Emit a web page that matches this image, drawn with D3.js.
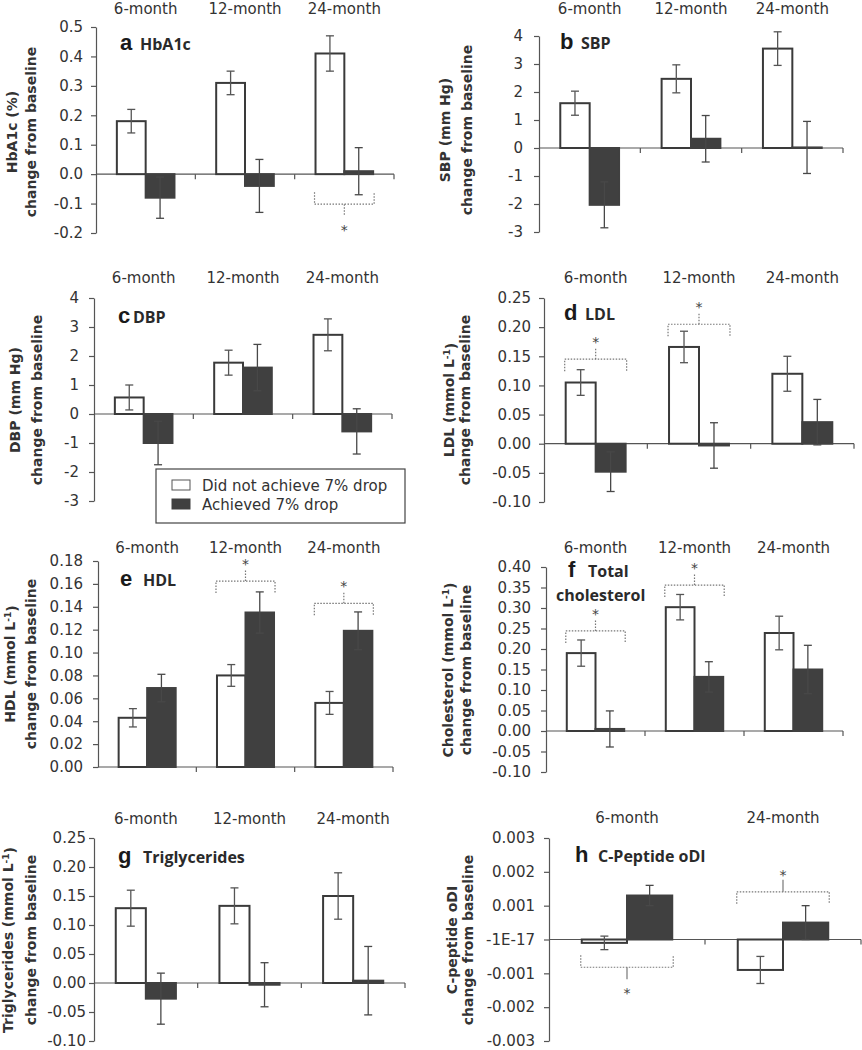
<!DOCTYPE html>
<html>
<head>
<meta charset="utf-8">
<script src="https://cdn.jsdelivr.net/npm/d3@7/dist/d3.min.js"></script>
<style>
html,body{margin:0;padding:0;background:#fff;}
svg{display:block;}
</style>
</head>
<body>
<svg id="chart" width="862" height="1050"></svg>
<script>
// ---------- DATA ----------
const months3 = ["6-month", "12-month", "24-month"];
const months2 = ["6-month", "24-month"];
const groups = ["Did not achieve 7% drop", "Achieved 7% drop"];

// a HbA1c
const hba1cNot = [0.18, 0.31, 0.41];
const hba1cNotErr = [0.04, 0.04, 0.06];
const hba1cAch = [-0.08, -0.04, 0.01];
const hba1cAchErr = [0.07, 0.09, 0.08];
const hba1cTicks = [-0.2, -0.1, 0, 0.1, 0.2, 0.3, 0.4, 0.5];
const hba1cTickLabels = ["-0.2", "-0.1", "0.0", "0.1", "0.2", "0.3", "0.4", "0.5"];
const hba1cSigCats = [2];
const hba1cSigLevels = [-0.102];

// b SBP
const sbpNot = [1.6, 2.47, 3.55];
const sbpNotErr = [0.43, 0.5, 0.6];
const sbpAch = [-2.03, 0.33, 0.02];
const sbpAchErr = [0.82, 0.83, 0.93];
const sbpTicks = [-3, -2, -1, 0, 1, 2, 3, 4];
const sbpTickLabels = ["-3", "-2", "-1", "0", "1", "2", "3", "4"];

// c DBP
const dbpNot = [0.57, 1.77, 2.73];
const dbpNotErr = [0.43, 0.43, 0.55];
const dbpAch = [-1.0, 1.6, -0.6];
const dbpAchErr = [0.75, 0.8, 0.78];
const dbpTicks = [-3, -2, -1, 0, 1, 2, 3, 4];
const dbpTickLabels = ["-3", "-2", "-1", "0", "1", "2", "3", "4"];

// d LDL
const ldlNot = [0.105, 0.166, 0.12];
const ldlNotErr = [0.022, 0.027, 0.03];
const ldlAch = [-0.048, -0.003, 0.037];
const ldlAchErr = [0.034, 0.039, 0.039];
const ldlTicks = [-0.10, -0.05, 0, 0.05, 0.10, 0.15, 0.20, 0.25];
const ldlTickLabels = ["-0.10", "-0.05", "0.00", "0.05", "0.10", "0.15", "0.20", "0.25"];
const ldlSigCats = [0, 1];
const ldlSigLevels = [0.145, 0.205];

// e HDL
const hdlNot = [0.043, 0.080, 0.056];
const hdlNotErr = [0.008, 0.0095, 0.010];
const hdlAch = [0.069, 0.135, 0.119];
const hdlAchErr = [0.012, 0.018, 0.0165];
const hdlTicks = [0, 0.02, 0.04, 0.06, 0.08, 0.10, 0.12, 0.14, 0.16, 0.18];
const hdlTickLabels = ["0.00", "0.02", "0.04", "0.06", "0.08", "0.10", "0.12", "0.14", "0.16", "0.18"];
const hdlSigCats = [1, 2];
const hdlSigLevels = [0.1625, 0.143];

// f Total cholesterol
const cholNot = [0.190, 0.302, 0.239];
const cholNotErr = [0.032, 0.031, 0.041];
const cholAch = [0.005, 0.132, 0.150];
const cholAchErr = [0.044, 0.037, 0.059];
const cholTicks = [-0.10, -0.05, 0, 0.05, 0.10, 0.15, 0.20, 0.25, 0.30, 0.35, 0.40];
const cholTickLabels = ["-0.10", "-0.05", "0.00", "0.05", "0.10", "0.15", "0.20", "0.25", "0.30", "0.35", "0.40"];
const cholSigCats = [0, 1];
const cholSigLevels = [0.244, 0.356];

// g Triglycerides
const trigNot = [0.129, 0.133, 0.150];
const trigNotErr = [0.031, 0.031, 0.040];
const trigAch = [-0.027, -0.003, 0.004];
const trigAchErr = [0.044, 0.038, 0.059];
const trigTicks = [-0.10, -0.05, 0, 0.05, 0.10, 0.15, 0.20, 0.25];
const trigTickLabels = ["-0.10", "-0.05", "0.00", "0.05", "0.10", "0.15", "0.20", "0.25"];

// h C-Peptide oDI
const cpepNot = [-0.0001, -0.0009];
const cpepNotErr = [0.0002, 0.0004];
const cpepAch = [0.0013, 0.0005];
const cpepAchErr = [0.0003, 0.0005];
const cpepTicks = [-0.003, -0.002, -0.001, 0, 0.001, 0.002, 0.003];
const cpepTickLabels = ["-0.003", "-0.002", "-0.001", "-1E-17", "0.001", "0.002", "0.003"];
const cpepSigCats = [0, 1];
const cpepSigLevels = [-0.00082, 0.00141];

// ---------- DRAWING ----------
const svg = d3.select("#chart");
const REG = "'DejaVu Sans', sans-serif";
const TITLE = "'Open Sans', sans-serif";
const INK = "#333";
const DARK = "#404040";

function drawPanel(c) {
  const g = svg.append("g");
  const y = d3.scaleLinear()
    .domain([c.ticks[0], c.ticks[c.ticks.length - 1]])
    .range([c.yBot, c.yTop]);
  const x = d3.scaleBand().domain(c.cats).range([c.x0, c.x1]);
  const xs = d3.scaleBand().domain(["not", "ach"]).range([0, x.bandwidth()])
    .paddingInner(0).paddingOuter(0.724);

  // y axis
  const ax = g.append("g").attr("transform", `translate(${c.x0},0)`)
    .call(d3.axisLeft(y).tickValues(c.ticks)
      .tickFormat((d, i) => c.tickLabels[i])
      .tickSize(5).tickSizeOuter(0).tickPadding(c.pad));
  ax.select(".domain").attr("stroke", "#555").attr("stroke-width", 1.2);
  ax.selectAll(".tick line").attr("stroke", "#555").attr("stroke-width", 1.2);
  ax.selectAll(".tick text").attr("font-family", REG).attr("font-size", 15).attr("fill", INK);

  // zero line + category ticks
  const y0 = y(0);
  g.append("line").attr("x1", c.x0).attr("x2", c.x1).attr("y1", y0).attr("y2", y0)
    .attr("stroke", "#555").attr("stroke-width", 1.2);
  g.selectAll("line.ct").data(c.cats).enter().append("line")
    .attr("x1", d => x(d) + x.bandwidth()).attr("x2", d => x(d) + x.bandwidth())
    .attr("y1", y0).attr("y2", y0 + 5)
    .attr("stroke", "#555").attr("stroke-width", 1.2);

  // category labels
  g.selectAll("text.cat").data(c.cats).enter().append("text")
    .attr("x", d => x(d) + x.bandwidth() / 2).attr("y", c.labelY)
    .attr("text-anchor", "middle").attr("font-family", REG).attr("font-size", 15)
    .attr("fill", INK).text(d => d);

  // bars
  const rows = [];
  c.cats.forEach((cat, i) => {
    rows.push({ cat, grp: "not", v: c.not[i], e: c.notErr[i] });
    rows.push({ cat, grp: "ach", v: c.ach[i], e: c.achErr[i] });
  });
  g.selectAll("rect.bar").data(rows).enter().append("rect")
    .attr("x", d => x(d.cat) + xs(d.grp))
    .attr("width", xs.bandwidth())
    .attr("y", d => Math.min(y(d.v), y0))
    .attr("height", d => Math.abs(y(d.v) - y0))
    .attr("fill", d => d.grp === "not" ? "#fff" : DARK)
    .attr("stroke", d => d.grp === "not" ? "#3a3a3a" : DARK)
    .attr("stroke-width", 2);

  // error bars
  const eg = g.selectAll("g.err").data(rows).enter().append("g")
    .attr("stroke", d => d.grp === "not" ? "#555" : "#484848").attr("stroke-width", 1.3);
  const cx = d => x(d.cat) + xs(d.grp) + xs.bandwidth() / 2;
  eg.append("line").attr("x1", cx).attr("x2", cx)
    .attr("y1", d => y(d.v - d.e)).attr("y2", d => y(d.v + d.e));
  eg.append("line").attr("x1", d => cx(d) - 4).attr("x2", d => cx(d) + 4)
    .attr("y1", d => y(d.v + d.e)).attr("y2", d => y(d.v + d.e));
  eg.append("line").attr("x1", d => cx(d) - 4).attr("x2", d => cx(d) + 4)
    .attr("y1", d => y(d.v - d.e)).attr("y2", d => y(d.v - d.e));

  // significance brackets
  (c.sigCats || []).forEach((ci, k) => {
    const cat = c.cats[ci];
    const lv = c.sigLevels[k];
    const down = lv < 0 && c.downBelow;
    const left = x(cat) + xs("not") - 1;
    const right = x(cat) + xs("ach") + xs.bandwidth() + 1;
    const mid = (left + right) / 2;
    const ly = y(lv);
    const dir = down ? -1 : 1; // ends direction (+1 = downward)
    const sg = g.append("g").attr("fill", "none").attr("stroke", "#777").attr("stroke-width", 1.2);
    sg.append("path")
      .attr("d", `M${left},${ly + dir * 12}V${ly}H${right}V${ly + dir * 12}`)
      .attr("stroke-dasharray", "1.5,1.5");
    sg.append("line").attr("x1", mid).attr("x2", mid)
      .attr("y1", ly).attr("y2", ly - dir * 12)
      .attr("stroke-dasharray", c.solidStem ? null : "1.5,1.5");
    g.append("text").attr("x", mid).attr("y", down ? ly + 31 : ly - 12)
      .attr("text-anchor", "middle").attr("font-family", REG).attr("font-size", 14)
      .attr("fill", "#444").text("*");
  });

  // y-axis title (two lines, rotated)
  const t1 = g.append("text")
    .attr("transform", `translate(${c.t1x},${c.tcy}) rotate(-90)`)
    .attr("text-anchor", "middle").attr("dy", "0.35em")
    .attr("font-family", REG).attr("font-weight", "bold").attr("font-size", 14).attr("fill", INK);
  t1.append("tspan").text(c.yTitle);
  if (c.sup) {
    t1.append("tspan").attr("dy", "-0.45em").attr("font-size", 9).text("-1");
    t1.append("tspan").attr("dy", "0.45em").text(")");
  }
  g.append("text")
    .attr("transform", `translate(${c.t2x},${c.tcy}) rotate(-90)`)
    .attr("text-anchor", "middle").attr("dy", "0.35em")
    .attr("font-family", REG).attr("font-weight", "bold").attr("font-size", 14).attr("fill", INK)
    .text("change from baseline");

  // panel title
  g.append("text").attr("x", c.lx).attr("y", c.ly)
    .attr("font-family", "'Liberation Sans', Arial, sans-serif").attr("font-weight", "bold")
    .attr("font-size", 22).attr("fill", "#1a1a1a").text(c.letter);
  c.names.forEach((nm, i) => {
    g.append("text").attr("x", c.nx[i]).attr("y", c.ny[i])
      .attr("font-family", TITLE).attr("font-weight", "bold")
      .attr("font-size", 16).attr("fill", "#2a2a2a").text(nm);
  });
}

drawPanel({ cats: months3, not: hba1cNot, notErr: hba1cNotErr, ach: hba1cAch, achErr: hba1cAchErr,
  ticks: hba1cTicks, tickLabels: hba1cTickLabels, x0: 96, x1: 394, yTop: 27, yBot: 233, pad: 8,
  labelY: 14, sigCats: hba1cSigCats, sigLevels: hba1cSigLevels, downBelow: true,
  yTitle: "HbA1c (%)", t1x: 12, t2x: 31, tcy: 132,
  letter: "a", lx: 120, ly: 50, names: ["HbA1c"], nx: [140], ny: [50] });

drawPanel({ cats: months3, not: sbpNot, notErr: sbpNotErr, ach: sbpAch, achErr: sbpAchErr,
  ticks: sbpTicks, tickLabels: sbpTickLabels, x0: 539, x1: 843, yTop: 36, yBot: 232, pad: 11,
  labelY: 14, yTitle: "SBP (mm Hg)", t1x: 445, t2x: 467, tcy: 130,
  letter: "b", lx: 560, ly: 49, names: ["SBP"], nx: [581], ny: [49] });

drawPanel({ cats: months3, not: dbpNot, notErr: dbpNotErr, ach: dbpAch, achErr: dbpAchErr,
  ticks: dbpTicks, tickLabels: dbpTickLabels, x0: 94, x1: 392, yTop: 298, yBot: 501, pad: 10,
  labelY: 283, yTitle: "DBP (mm Hg)", t1x: 15, t2x: 37, tcy: 400,
  letter: "c", lx: 118, ly: 323, names: ["DBP"], nx: [133], ny: [323] });

drawPanel({ cats: months3, not: ldlNot, notErr: ldlNotErr, ach: ldlAch, achErr: ldlAchErr,
  ticks: ldlTicks, tickLabels: ldlTickLabels, x0: 544, x1: 854, yTop: 298, yBot: 502, pad: 8,
  labelY: 283, sigCats: ldlSigCats, sigLevels: ldlSigLevels,
  yTitle: "LDL (mmol L", sup: true, t1x: 449, t2x: 465, tcy: 400,
  letter: "d", lx: 564, ly: 320, names: ["LDL"], nx: [585], ny: [320] });

drawPanel({ cats: months3, not: hdlNot, notErr: hdlNotErr, ach: hdlAch, achErr: hdlAchErr,
  ticks: hdlTicks, tickLabels: hdlTickLabels, x0: 98, x1: 393, yTop: 561, yBot: 767, pad: 10,
  labelY: 553, sigCats: hdlSigCats, sigLevels: hdlSigLevels,
  yTitle: "HDL (mmol L", sup: true, t1x: 10, t2x: 31, tcy: 664,
  letter: "e", lx: 120, ly: 586, names: ["HDL"], nx: [143], ny: [586] });

drawPanel({ cats: months3, not: cholNot, notErr: cholNotErr, ach: cholAch, achErr: cholAchErr,
  ticks: cholTicks, tickLabels: cholTickLabels, x0: 546, x1: 843, yTop: 567, yBot: 772, pad: 10,
  labelY: 553, sigCats: cholSigCats, sigLevels: cholSigLevels,
  yTitle: "Cholesterol (mmol L", sup: true, t1x: 448, t2x: 466, tcy: 670,
  letter: "f", lx: 568, ly: 577, names: ["Total", "cholesterol"], nx: [588, 556], ny: [577, 601] });

drawPanel({ cats: months3, not: trigNot, notErr: trigNotErr, ach: trigAch, achErr: trigAchErr,
  ticks: trigTicks, tickLabels: trigTickLabels, x0: 94, x1: 405, yTop: 838, yBot: 1041, pad: 3,
  labelY: 824, yTitle: "Triglycerides (mmol L", sup: true, t1x: 8, t2x: 31, tcy: 940,
  letter: "g", lx: 118, ly: 863, names: ["Triglycerides"], nx: [143], ny: [863] });

drawPanel({ cats: months2, not: cpepNot, notErr: cpepNotErr, ach: cpepAch, achErr: cpepAchErr,
  ticks: cpepTicks, tickLabels: cpepTickLabels, x0: 549, x1: 861, yTop: 838, yBot: 1041, pad: 9,
  labelY: 823, sigCats: cpepSigCats, sigLevels: cpepSigLevels, downBelow: true, solidStem: true,
  yTitle: "C-peptide oDI", t1x: 452, t2x: 468, tcy: 940,
  letter: "h", lx: 575, ly: 862, names: ["C-Peptide oDI"], nx: [598], ny: [862] });

// legend
const lg = svg.append("g");
lg.append("rect").attr("x", 156).attr("y", 469).attr("width", 249).attr("height", 54)
  .attr("fill", "#fff").attr("stroke", "#444").attr("stroke-width", 1.2);
const ly = d3.scaleBand().domain(groups).range([476, 514]);
lg.selectAll("rect.sw").data(groups).enter().append("rect")
  .attr("x", 172).attr("y", d => ly(d) + 4).attr("width", 18).attr("height", 10)
  .attr("fill", (d, i) => i === 0 ? "#fff" : DARK)
  .attr("stroke", (d, i) => i === 0 ? "#555" : DARK).attr("stroke-width", 1);
lg.selectAll("text.lt").data(groups).enter().append("text")
  .attr("x", 202).attr("y", d => ly(d) + 15)
  .attr("font-family", REG).attr("font-size", 15).attr("fill", INK).text(d => d);
</script>
</body>
</html>
